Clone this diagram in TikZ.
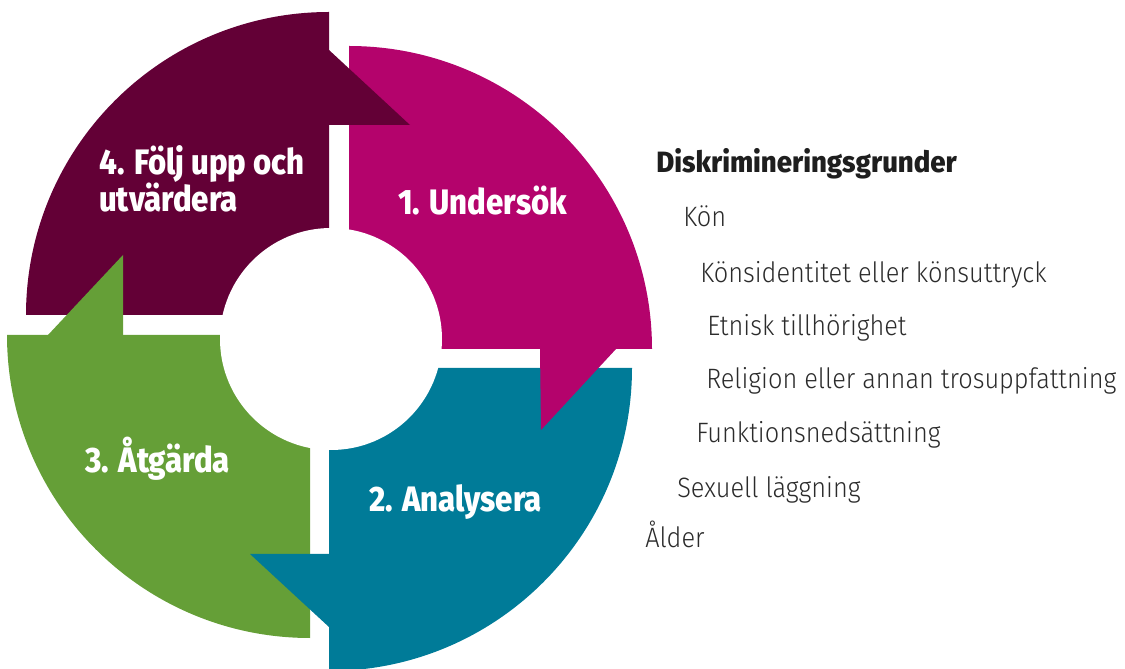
\documentclass[tikz,border=0pt]{standalone}
\usepackage{fontspec}
\setmainfont{Fira Sans}
\newfontfamily\labfont[FakeStretch=0.88]{Fira Sans ExtraBold}
\newfontfamily\headfont[FakeStretch=0.94]{Fira Sans ExtraBold}
\newfontfamily\itemfont[FakeStretch=0.905]{Fira Sans Light}
\definecolor{cmag}{HTML}{B4036C}
\definecolor{cpur}{HTML}{630036}
\definecolor{cteal}{HTML}{007B98}
\definecolor{cgreen}{HTML}{659F37}
\definecolor{ctext}{HTML}{2B2B2B}
\definecolor{chead}{HTML}{1E1E1E}
\begin{document}
\begin{tikzpicture}[x=0.75pt,y=0.75pt,
  lab/.style={text=white, font=\labfont\fontsize{26.5}{30}\selectfont, anchor=base west, inner sep=0},
  head/.style={text=chead, font=\headfont\fontsize{22}{26}\selectfont, anchor=base west, inner sep=0},
  item/.style={text=ctext, font=\itemfont\fontsize{21}{25}\selectfont, anchor=base west, inner sep=0}]
\useasboundingbox (0,0) rectangle (1125,668);
% ring segments
\fill[cpur] (329,353) -- ++(-303,0) arc[start angle=180,end angle=90,radius=303] -- cycle;
\fill[cmag] (349,319) -- ++(0,303) arc[start angle=90,end angle=0,radius=303] -- cycle;
\fill[cteal] (329,300) -- ++(303,0) arc[start angle=0,end angle=-90,radius=303] -- cycle;
\fill[cgreen] (310,333) -- ++(0,-303) arc[start angle=270,end angle=180,radius=303] -- cycle;
% arrowheads
\fill[cpur] (325,618) -- (329,618) -- (410,543) -- (325,543) -- cycle;
\fill[cmag] (616,319) -- (541,238) -- (540,319) -- (540,323) -- (616,323) -- cycle;
\fill[cteal] (333,41) -- (329,41) -- (250,114) -- (333,114) -- cycle;
\fill[cgreen] (48,333) -- (48,329) -- (123,329) -- (123,413) -- cycle;
% hole
\fill[white] (331,329) circle[radius=111];
% labels
\node[lab] (l4a) at (99,493) {4. Följ upp och};
\node[lab] (l4b) at (99,456) {utvärdera};
\node[lab] (l1) at (398,453) {1. Undersök};
\node[lab] (l3) at (85,195) {3. Åtgärda};
\node[lab] (l2) at (369,156) {2. Analysera};
% list
\node[head] (h) at (656,495) {Diskrimineringsgrunder};
\node[item] (i1) at (683,441) {Kön};
\node[item] (i2) at (700,385) {Könsidentitet eller könsuttryck};
\node[item] (i3) at (707,332) {Etnisk tillhörighet};
\node[item] (i4) at (706,279) {Religion eller annan trosuppfattning};
\node[item] (i5) at (696,225) {Funktionsnedsättning};
\node[item] (i6) at (677,170) {Sexuell läggning};
\node[item] (i7) at (645,120) {Ålder};
\end{tikzpicture}
\end{document}
